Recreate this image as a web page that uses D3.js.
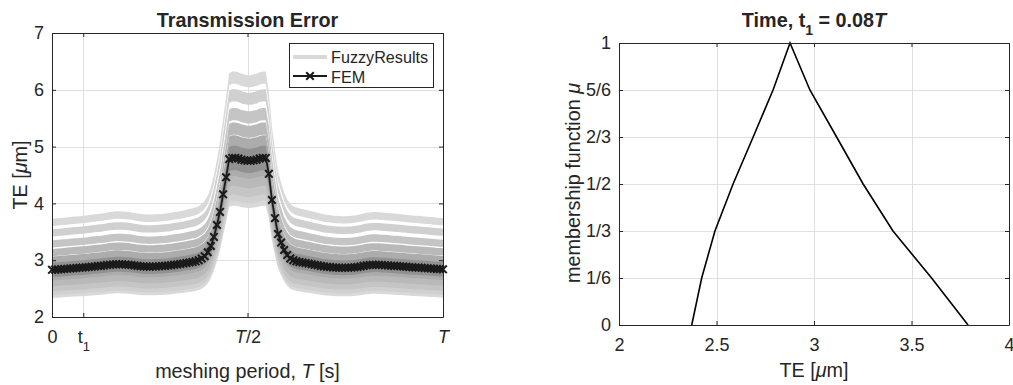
<!DOCTYPE html>
<html>
<head>
<meta charset="utf-8">
<script src="https://cdn.jsdelivr.net/npm/d3@7"></script>
<style>
  body { margin: 0; background: #fff; }
  svg text { font-family: "Liberation Sans", Arial, Helvetica, sans-serif; fill: #262626; }
</style>
</head>
<body>
<svg id="chart" width="1013" height="385"></svg>
<script>
// alpha cuts of the membership function at t1 (right panel)
var muLevels = [0, 1/6, 1/3, 1/2, 2/3, 5/6, 1];
var teLower = [2.373, 2.424, 2.492, 2.585, 2.688, 2.790, 2.877];
var teUpper = [3.790, 3.603, 3.405, 3.252, 3.116, 2.979, 2.877];
var t1 = 0.08;

// FEM transmission error over one meshing period (129 samples, 0..T)
var femTE = [
  2.830, 2.834, 2.838, 2.842, 2.846, 2.850, 2.855, 2.860, 2.863, 2.866,
  2.870, 2.874, 2.880, 2.886, 2.891, 2.896, 2.900, 2.906, 2.914, 2.921,
  2.926, 2.930, 2.930, 2.928, 2.925, 2.921, 2.916, 2.908, 2.900, 2.894,
  2.890, 2.888, 2.887, 2.888, 2.890, 2.893, 2.896, 2.900, 2.905, 2.912,
  2.920, 2.926, 2.932, 2.940, 2.950, 2.960, 2.970, 2.980, 3.000, 3.030,
  3.070, 3.140, 3.250, 3.410, 3.620, 3.850, 4.160, 4.460, 4.780, 4.800,
  4.800, 4.790, 4.770, 4.760, 4.750, 4.750, 4.760, 4.770, 4.790, 4.800,
  4.800, 4.520, 4.060, 3.740, 3.460, 3.310, 3.180, 3.090, 3.030, 3.000,
  2.980, 2.970, 2.960, 2.950, 2.940, 2.930, 2.920, 2.910, 2.900, 2.890,
  2.885, 2.880, 2.873, 2.870, 2.868, 2.866, 2.866, 2.868, 2.870, 2.875,
  2.882, 2.890, 2.900, 2.910, 2.916, 2.920, 2.920, 2.918, 2.915, 2.912,
  2.908, 2.904, 2.900, 2.897, 2.893, 2.889, 2.884, 2.879, 2.875, 2.872,
  2.870, 2.866, 2.862, 2.858, 2.854, 2.850, 2.846, 2.843, 2.840
];

var leftXTicks = [0, t1, 0.5, 1];
var leftYTicks = [2, 3, 4, 5, 6, 7];
var rightXTicks = [2, 2.5, 3, 3.5, 4];
var rightYLabels = ["0", "1/6", "1/3", "1/2", "2/3", "5/6", "1"];

var times = femTE.map(function (d, i) { return i / (femTE.length - 1); });

// styles
var axisColor = "#262626", gridColor = "#dfdfdf";
var bandShades = ["#d9d9d9", "#d0d0d0", "#c5c5c5", "#b9b9b9", "#acacac", "#9f9f9f", "#919191"];
var bandWidth = 0.045;

var svg = d3.select("#chart");
svg.append("rect").attr("width", 1013).attr("height", 385).attr("fill", "#fff");

var L = { x0: 52, x1: 443, y0: 33, y1: 317 },
    R = { x0: 619, x1: 1009, y0: 43, y1: 325 };

var xL = d3.scaleLinear().domain([0, 1]).range([L.x0, L.x1]),
    yL = d3.scaleLinear().domain([2, 7]).range([L.y1, L.y0]),
    xR = d3.scaleLinear().domain([2, 4]).range([R.x0, R.x1]),
    yR = d3.scaleLinear().domain([0, 1]).range([R.y1, R.y0]);

function drawGrid(g, x, y, xt, yt, box) {
    g.selectAll(".gx").data(xt).join("line")
        .attr("x1", d => Math.round(x(d)) + 0.5).attr("x2", d => Math.round(x(d)) + 0.5)
        .attr("y1", box.y0).attr("y2", box.y1)
        .attr("stroke", gridColor).attr("stroke-width", 1);
    g.selectAll(".gy").data(yt).join("line")
        .attr("y1", d => Math.round(y(d)) + 0.5).attr("y2", d => Math.round(y(d)) + 0.5)
        .attr("x1", box.x0).attr("x2", box.x1)
        .attr("stroke", gridColor).attr("stroke-width", 1);
}

function styleAxis(sel) {
    sel.attr("font-size", 18).attr("font-family", null);
    sel.selectAll("path, line").attr("stroke", axisColor);
    sel.selectAll("text").attr("fill", axisColor);
}

function drawAxes(g, x, y, xt, yt, box) {
    var fmt = d3.format("~g");
    var bottom = g.append("g").attr("transform", "translate(0," + box.y1 + ")")
        .call(d3.axisBottom(x).tickValues(xt).tickFormat(fmt).tickSizeInner(-4).tickSizeOuter(0).tickPadding(13));
    var top = g.append("g").attr("transform", "translate(0," + box.y0 + ")")
        .call(d3.axisTop(x).tickValues(xt).tickSizeInner(-4).tickSizeOuter(0).tickFormat(""));
    var left = g.append("g").attr("transform", "translate(" + box.x0 + ",0)")
        .call(d3.axisLeft(y).tickValues(yt).tickFormat(fmt).tickSizeInner(-4).tickSizeOuter(0).tickPadding(8));
    var right = g.append("g").attr("transform", "translate(" + box.x1 + ",0)")
        .call(d3.axisRight(y).tickValues(yt).tickSizeInner(-4).tickSizeOuter(0).tickFormat(""));
    [bottom, top, left, right].forEach(styleAxis);
    return { bottom: bottom, left: left };
}

// ---------- left panel ----------
var gL = svg.append("g");
drawGrid(gL, xL, yL, leftXTicks, leftYTicks, L);

var peakTE = teUpper[teUpper.length - 1];
var bands = gL.append("g");
muLevels.forEach(function (mu, k) {
    var ru = teUpper[k] / peakTE, rl = teLower[k] / peakTE;
    bands.append("path").datum(femTE)
        .attr("fill", bandShades[k])
        .attr("d", d3.area()
            .x((d, i) => xL(times[i]))
            .y0(d => yL(d * (ru - bandWidth)))
            .y1(d => yL(d * ru)));
    bands.append("path").datum(femTE)
        .attr("fill", bandShades[k])
        .attr("d", d3.area()
            .x((d, i) => xL(times[i]))
            .y0(d => yL(d * rl))
            .y1(d => yL(d * (rl + bandWidth))));
});

var axL = drawAxes(gL, xL, yL, leftXTicks, leftYTicks, L);
axL.bottom.selectAll(".tick text").each(function (d, i) {
    var t = d3.select(this).text("");
    if (i === 0) t.text("0");
    if (i === 1) { t.append("tspan").text("t"); t.append("tspan").attr("font-size", 13).attr("dy", 8).text("1"); }
    if (i === 2) { t.append("tspan").attr("font-style", "italic").text("T"); t.append("tspan").text("/2"); }
    if (i === 3) { t.append("tspan").attr("font-style", "italic").text("T"); }
});

// FEM line with x markers
gL.append("path").datum(femTE)
    .attr("fill", "none").attr("stroke", "#1a1a1a").attr("stroke-width", 1.8)
    .attr("d", d3.line().x((d, i) => xL(times[i])).y(d => yL(d)));
var mk = 3.8;
var xPath = "M" + (-mk) + "," + (-mk) + "L" + mk + "," + mk + "M" + (-mk) + "," + mk + "L" + mk + "," + (-mk);
gL.append("g").selectAll("path").data(femTE).join("path")
    .attr("transform", (d, i) => "translate(" + xL(times[i]) + "," + yL(d) + ")")
    .attr("d", xPath).attr("fill", "none").attr("stroke", "#1a1a1a").attr("stroke-width", 2);

// legend
var lg = gL.append("g");
lg.append("rect").attr("x", 289.5).attr("y", 43.5).attr("width", 144).attr("height", 44)
    .attr("fill", "#fff").attr("stroke", axisColor).attr("stroke-width", 1);
lg.append("line").attr("x1", 293).attr("x2", 327).attr("y1", 57).attr("y2", 57)
    .attr("stroke", bandShades[0]).attr("stroke-width", 4);
lg.append("text").attr("x", 331).attr("y", 63).attr("font-size", 16.2).text("FuzzyResults");
lg.append("line").attr("x1", 293).attr("x2", 327).attr("y1", 76).attr("y2", 76)
    .attr("stroke", "#1a1a1a").attr("stroke-width", 1.8);
lg.append("path").attr("transform", "translate(310,76)").attr("d", xPath)
    .attr("fill", "none").attr("stroke", "#1a1a1a").attr("stroke-width", 2);
lg.append("text").attr("x", 331).attr("y", 82.5).attr("font-size", 16.2).text("FEM");

// titles and labels
gL.append("text").attr("x", (L.x0 + L.x1) / 2).attr("y", 26.5).attr("text-anchor", "middle")
    .attr("font-size", 19.8).attr("font-weight", "bold").text("Transmission Error");
var xlabL = gL.append("text").attr("x", (L.x0 + L.x1) / 2).attr("y", 378).attr("text-anchor", "middle").attr("font-size", 19.8);
xlabL.append("tspan").text("meshing period, ");
xlabL.append("tspan").attr("font-style", "italic").text("T");
xlabL.append("tspan").text(" [s]");
var ylabL = gL.append("text").attr("transform", "translate(27,175) rotate(-90)").attr("text-anchor", "middle").attr("font-size", 19.8);
ylabL.append("tspan").text("TE [");
ylabL.append("tspan").attr("font-style", "italic").text("\u03bc");
ylabL.append("tspan").text("m]");

// ---------- right panel ----------
var gR = svg.append("g");
drawGrid(gR, xR, yR, rightXTicks, muLevels, R);

var memPts = teLower.map((v, k) => [v, muLevels[k]])
    .concat(teUpper.map((v, k) => [v, muLevels[k]]).reverse().slice(1));
gR.append("path").datum(memPts)
    .attr("fill", "none").attr("stroke", "#000").attr("stroke-width", 1.6)
    .attr("d", d3.line().x(d => xR(d[0])).y(d => yR(d[1])));

var axR = drawAxes(gR, xR, yR, rightXTicks, muLevels, R);
axR.left.selectAll(".tick text").text((d, i) => rightYLabels[i]);

var titR = gR.append("text").attr("x", (R.x0 + R.x1) / 2).attr("y", 26.5).attr("text-anchor", "middle")
    .attr("font-size", 19.8).attr("font-weight", "bold");
titR.append("tspan").text("Time, t");
titR.append("tspan").attr("font-size", 14).attr("dy", 8).text("1");
titR.append("tspan").attr("dy", -8).text(" = 0.08");
titR.append("tspan").attr("font-style", "italic").text("T");

var xlabR = gR.append("text").attr("x", (R.x0 + R.x1) / 2).attr("y", 377).attr("text-anchor", "middle").attr("font-size", 19.8);
xlabR.append("tspan").text("TE [");
xlabR.append("tspan").attr("font-style", "italic").text("\u03bc");
xlabR.append("tspan").text("m]");
var ylabR = gR.append("text").attr("transform", "translate(580,183) rotate(-90)").attr("text-anchor", "middle").attr("font-size", 19.8);
ylabR.append("tspan").text("membership function ");
ylabR.append("tspan").attr("font-style", "italic").text("\u03bc");
</script>
</body>
</html>
